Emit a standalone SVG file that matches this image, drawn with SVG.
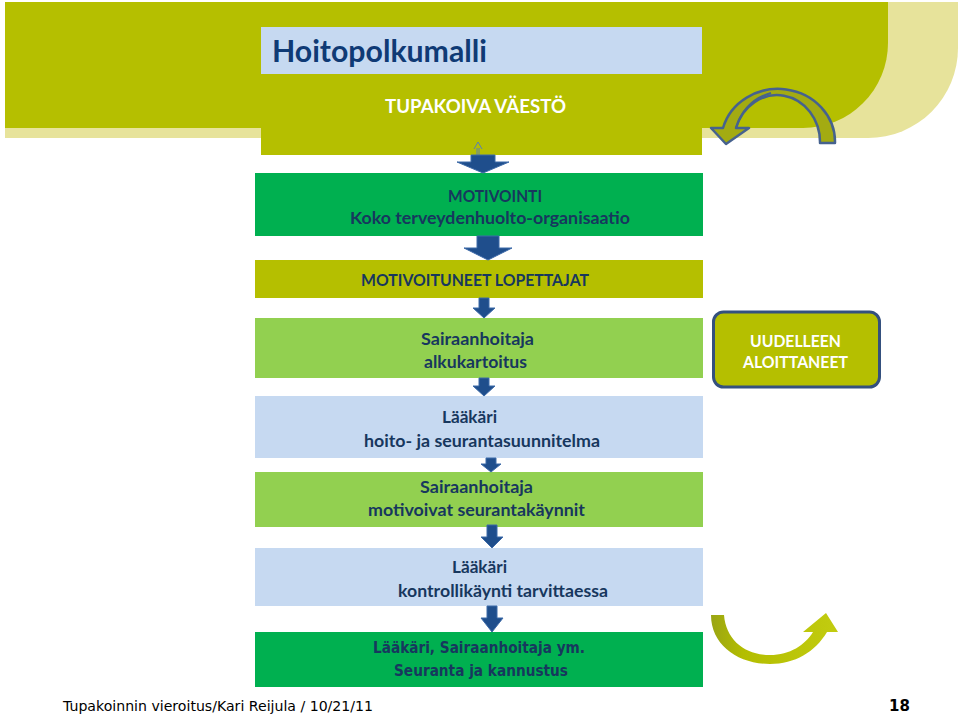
<svg xmlns="http://www.w3.org/2000/svg" width="960" height="716" viewBox="0 0 960 716">
<defs>
<style>
.box{font-family:Lato,"Open Sans","Liberation Sans",sans-serif;font-weight:bold;font-size:17.5px;fill:#17375e;text-anchor:middle}
.wt{font-family:Lato,"Open Sans","Liberation Sans",sans-serif;font-weight:bold;font-size:17px;fill:#ffffff;text-anchor:middle}
.vd{font-family:"DejaVu Sans Condensed","DejaVu Sans",sans-serif;font-weight:bold;font-size:15.5px;fill:#17375e;text-anchor:middle}
.ft{font-family:"DejaVu Sans","Liberation Sans",sans-serif;font-size:14.5px;fill:#000000}
.arr{fill:#1f4e8c;stroke:#3d6aa8;stroke-width:1}
</style>
<linearGradient id="ug" x1="0" y1="0" x2="1" y2="0">
<stop offset="0" stop-color="#9aa514"/>
<stop offset="0.25" stop-color="#b3bd00"/>
<stop offset="1" stop-color="#c2cc10"/>
</linearGradient>
</defs>
<rect width="960" height="716" fill="#ffffff"/>
<g id="background">
<path d="M5,2 H958 V48 A90,90 0 0 1 868,138 H5 Z" fill="#e7e39b"/>
<path d="M5,2 H888 V43 A85,85 0 0 1 803,128 H5 Z" fill="#b5bf00"/>
</g>
<g id="title">
<rect x="261" y="27" width="441" height="47" fill="#c6d9f1"/>
<text x="272" y="62" textLength="215" lengthAdjust="spacingAndGlyphs" style="font-family:Lato,'Liberation Sans',sans-serif;font-weight:bold;font-size:31px;fill:#0f3a75">Hoitopolkumalli</text>
</g>
<g id="tupakoiva">
<rect x="261" y="74" width="441" height="81" fill="#b5bf00"/>
<text class="wt" x="475.5" y="113" textLength="181" lengthAdjust="spacingAndGlyphs" style="font-size:18px">TUPAKOIVA VÄESTÖ</text>
</g>
<g id="motivointi">
<rect x="255" y="173" width="448" height="63" fill="#00b050"/>
<text class="box" x="495" y="202" textLength="94" lengthAdjust="spacingAndGlyphs">MOTIVOINTI</text>
<text class="box" x="490" y="224" textLength="280" lengthAdjust="spacingAndGlyphs">Koko terveydenhuolto-organisaatio</text>
</g>
<g id="motivoituneet">
<rect x="255" y="260" width="448" height="38" fill="#b5bf00"/>
<text class="box" x="475" y="286" textLength="228" lengthAdjust="spacingAndGlyphs">MOTIVOITUNEET LOPETTAJAT</text>
</g>
<g id="alkukartoitus">
<rect x="255" y="318" width="448" height="60" fill="#92d050"/>
<text class="box" x="477.5" y="345" textLength="113" lengthAdjust="spacingAndGlyphs">Sairaanhoitaja</text>
<text class="box" x="475.5" y="368" textLength="103" lengthAdjust="spacingAndGlyphs">alkukartoitus</text>
</g>
<g id="uudelleen">
<rect x="713.5" y="312" width="166" height="75" rx="10" fill="#b5bf00" stroke="#34507e" stroke-width="3"/>
<text class="wt" x="795.5" y="347" textLength="91" lengthAdjust="spacingAndGlyphs">UUDELLEEN</text>
<text class="wt" x="795.5" y="368" textLength="105" lengthAdjust="spacingAndGlyphs">ALOITTANEET</text>
</g>
<g id="hoitosuunnitelma">
<rect x="255" y="396" width="448" height="62" fill="#c6d9f1"/>
<text class="box" x="469.5" y="423" textLength="55" lengthAdjust="spacingAndGlyphs">Lääkäri</text>
<text class="box" x="482" y="447" textLength="236" lengthAdjust="spacingAndGlyphs">hoito- ja seurantasuunnitelma</text>
</g>
<g id="seurantakaynnit">
<rect x="255" y="472" width="448" height="55" fill="#92d050"/>
<text class="box" x="476.5" y="493" textLength="113" lengthAdjust="spacingAndGlyphs">Sairaanhoitaja</text>
<text class="box" x="476.5" y="516" textLength="217" lengthAdjust="spacingAndGlyphs">motivoivat seurantakäynnit</text>
</g>
<g id="kontrollikaynti">
<rect x="255" y="548" width="448" height="58" fill="#c6d9f1"/>
<text class="box" x="479.5" y="573" textLength="55" lengthAdjust="spacingAndGlyphs">Lääkäri</text>
<text class="box" x="503" y="597" textLength="210" lengthAdjust="spacingAndGlyphs">kontrollikäynti tarvittaessa</text>
</g>
<g id="kannustus">
<rect x="255" y="632" width="448" height="55" fill="#00b050"/>
<text class="vd" x="479" y="653" textLength="212" lengthAdjust="spacingAndGlyphs">Lääkäri, Sairaanhoitaja ym.</text>
<text class="vd" x="481" y="676" textLength="174" lengthAdjust="spacingAndGlyphs">Seuranta ja kannustus</text>
</g>
<g id="connectors">
<g fill="none" stroke="#5a7fb5" stroke-width="1">
<path d="M474,149 L478,142 L482,149"/>
<path d="M477,148 V155 M479,148 V155"/>
</g>
<path class="arr" d="M471,155 H495 V162 H509 L483,173 L457,162 H471 Z"/>
<path class="arr" d="M477,236 H499 V248 H512 L488,260 L464,248 H477 Z"/>
<path class="arr" d="M479,298 H489 V308 H495 L484,318 L473,308 H479 Z"/>
<path class="arr" d="M479,378 H489 V386 H495 L484,396 L473,386 H479 Z"/>
<path class="arr" d="M486,458 H496 V464 H501 L491,472 L481,464 H486 Z"/>
<path class="arr" d="M487,525 H497 V537 H503 L492,548 L481,537 H487 Z"/>
<path class="arr" d="M487,606 H497 V618 H503 L492,632 L481,618 H487 Z"/>
<path d="M835,143 A57,53 0 0 0 723,128 L711,128 L726,144 L749,128 L736,128 A43,47 0 0 1 820,143 Z" fill="#a3ab12" stroke="#46628e" stroke-width="2.5" stroke-linejoin="round"/>
<path d="M736,128 Q745,100 771,93" fill="none" stroke="#46628e" stroke-width="2"/>
<path d="M711,615 C711,645 738,664 770,664 C795,664 815,652 827,632 L838,632 L826,613 L803,632 L813,632 C805,645 790,655 770,655 C745,655 726,640 724,615 Z" fill="url(#ug)"/>
</g>
<g id="footer">
<text class="ft" x="63" y="711" textLength="310" lengthAdjust="spacingAndGlyphs">Tupakoinnin vieroitus/Kari Reijula / 10/21/11</text>
<text class="ft" x="889" y="711" style="font-weight:bold;font-size:15px">18</text>
</g>
</svg>
